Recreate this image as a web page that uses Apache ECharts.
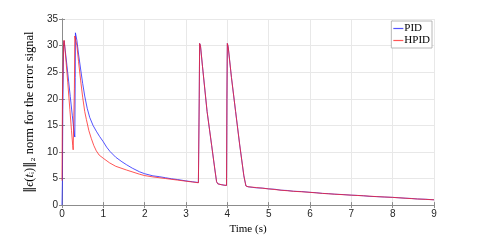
<!DOCTYPE html>
<html>
<head>
<meta charset="utf-8">
<script src="https://cdn.jsdelivr.net/npm/echarts@6/dist/echarts.min.js"></script>
<style>html,body{margin:0;padding:0;background:#fff;}#c{width:480px;height:240px;}</style>
</head>
<body>
<div id="c"></div>
<script>
var xTicks = [0, 1, 2, 3, 4, 5, 6, 7, 8, 9];
var yTicks = [0, 5, 10, 15, 20, 25, 30, 35];

var tPID = [0, 0.01, 0.02, 0.04, 0.05, 0.08, 0.12, 0.16, 0.2, 0.25, 0.3, 0.31, 0.32, 0.325, 0.36, 0.4, 0.45, 0.5, 0.55, 0.61, 0.67, 0.75, 0.83, 0.91, 1.0, 1.08, 1.16, 1.3, 1.45, 1.56, 1.7, 1.88, 2.0, 2.2, 2.35, 2.5, 2.65, 2.8, 3.0, 3.15, 3.3, 3.31, 3.32, 3.33, 3.35, 3.4, 3.51, 3.62, 3.7, 3.74, 3.77, 3.85, 3.92, 3.98, 3.99, 4.0, 4.02, 4.1, 4.2, 4.3, 4.4, 4.45, 4.5, 4.6, 4.7, 4.85, 5.0, 5.15, 5.3, 5.45, 5.6, 5.8, 6.0, 6.15, 6.3, 6.45, 6.6, 6.8, 7.0, 7.15, 7.3, 7.45, 7.6, 7.8, 8.0, 8.15, 8.3, 8.45, 8.6, 8.8, 9.0];
var yPID = [0, 4.6, 18, 30.3, 30.9, 29.0, 26.2, 23.3, 20.4, 16.8, 13.2, 12.8, 24, 32.4, 31.0, 28.4, 25.6, 22.9, 20.5, 18.2, 16.5, 15.0, 13.9, 12.9, 11.9, 10.9, 10.1, 9.0, 8.15, 7.6, 6.95, 6.25, 5.9, 5.5, 5.35, 5.15, 4.95, 4.8, 4.55, 4.4, 4.25, 4.2, 20, 30.4, 30.0, 26.0, 17.6, 11.25, 6.6, 4.4, 4.0, 3.85, 3.75, 3.7, 20, 30.4, 29.8, 24.0, 17.6, 11.3, 5.5, 3.6, 3.45, 3.35, 3.25, 3.2, 3.05, 2.98, 2.8, 2.75, 2.6, 2.55, 2.4, 2.33, 2.2, 2.15, 2.05, 1.98, 1.87, 1.82, 1.75, 1.64, 1.6, 1.52, 1.45, 1.38, 1.3, 1.25, 1.15, 1.1, 1.0];

var tHPID = [0, 0.01, 0.04, 0.05, 0.06, 0.1, 0.14, 0.19, 0.23, 0.26, 0.27, 0.28, 0.285, 0.3, 0.31, 0.36, 0.4, 0.45, 0.5, 0.55, 0.59, 0.65, 0.71, 0.77, 0.83, 0.9, 1.0, 1.15, 1.3, 1.56, 1.88, 2.0, 2.2, 2.5, 2.8, 3.0, 3.15, 3.3, 3.31, 3.32, 3.33, 3.35, 3.4, 3.51, 3.62, 3.7, 3.74, 3.77, 3.85, 3.92, 3.98, 3.99, 4.0, 4.02, 4.1, 4.2, 4.3, 4.4, 4.45, 4.5, 4.7, 5.0, 5.3, 5.6, 6.0, 6.3, 6.6, 7.0, 7.3, 7.6, 8.0, 8.3, 8.6, 9.0];
var yHPID = [4.6, 20, 30.6, 31.0, 30.5, 26.8, 23.0, 18.0, 14.0, 11.2, 10.4, 10.2, 10.4, 22, 31.8, 30.0, 27.0, 23.5, 20.3, 17.6, 16.1, 14.0, 12.5, 11.2, 10.2, 9.4, 8.8, 7.95, 7.3, 6.6, 5.8, 5.55, 5.3, 5.0, 4.7, 4.5, 4.35, 4.2, 4.2, 20, 30.4, 30.0, 26.0, 17.6, 11.25, 6.6, 4.4, 4.0, 3.85, 3.75, 3.7, 20, 30.4, 29.8, 24.0, 17.6, 11.3, 5.5, 3.6, 3.45, 3.3, 3.05, 2.8, 2.6, 2.4, 2.2, 2.05, 1.87, 1.75, 1.6, 1.45, 1.3, 1.15, 1.0];

function pairs(t, y) { return t.map(function (v, i) { return [v, y[i]]; }); }

var serif = '"Liberation Serif", "DejaVu Serif", serif';
var sans = '"Liberation Sans", Arial, sans-serif';

var chart = echarts.init(document.getElementById('c'), null, { renderer: 'canvas' });
var axisCol = '#8c8c8c';
var gridCol = '#e8e8e8';
chart.setOption({
  animation: false,
  backgroundColor: '#fff',
  grid: { left: 62, right: 46, top: 19, bottom: 28, show: false },
  legend: {
    orient: 'vertical', right: 48, top: 21,
    icon: 'rect', itemWidth: 10, itemHeight: 1.2, itemGap: 1,
    padding: [2, 2, 2, 2],
    borderColor: '#a6a6a6', borderWidth: 0.8, backgroundColor: '#fff',
    textStyle: { fontFamily: serif, fontSize: 11, color: '#000', padding: [0, 0, 0, -4] },
    data: ['PID', 'HPID']
  },
  xAxis: [{
    type: 'value', min: 0, max: 9, interval: 1,
    name: 'Time (s)', nameLocation: 'middle', nameGap: 16,
    nameTextStyle: { fontFamily: serif, fontSize: 11, color: '#000' },
    axisLine: { show: true, lineStyle: { color: axisCol, width: 1 } },
    axisTick: { show: true, inside: true, length: 3, lineStyle: { color: axisCol } },
    axisLabel: { fontFamily: sans, fontSize: 10, color: '#262626', margin: 4,
      formatter: function (v) { return xTicks.indexOf(v) >= 0 ? String(v) : ''; } },
    splitLine: { show: true, lineStyle: { color: gridCol, width: 1 } }
  }, {
    type: 'value', min: 0, max: 9, interval: 1, position: 'top',
    axisLine: { show: true, lineStyle: { color: axisCol, width: 1 } },
    axisTick: { show: true, inside: true, length: 3, lineStyle: { color: axisCol } },
    axisLabel: { show: false }, splitLine: { show: false }
  }],
  yAxis: [{
    type: 'value', min: 0, max: 35, interval: 5,
    name: '{d|‖}{i|ϵ}({i|t}ᵢ){d|‖}₂ norm for the error signal', nameLocation: 'middle', nameGap: 19,
    nameTextStyle: { fontFamily: serif, fontSize: 12.5, color: '#000',
      rich: {
        d: { fontFamily: '"DejaVu Serif", serif', fontSize: 12, color: '#000' },
        i: { fontFamily: serif, fontStyle: 'italic', fontSize: 12.5, color: '#000' }
      } },
    axisLine: { show: true, lineStyle: { color: axisCol, width: 1 } },
    axisTick: { show: true, inside: true, length: 3, lineStyle: { color: axisCol } },
    axisLabel: { fontFamily: sans, fontSize: 10, color: '#262626', margin: 4,
      formatter: function (v) { return yTicks.indexOf(v) >= 0 ? String(v) : ''; } },
    splitLine: { show: true, lineStyle: { color: gridCol, width: 1 } }
  }, {
    type: 'value', min: 0, max: 35, interval: 5, position: 'right',
    axisLine: { show: true, lineStyle: { color: axisCol, width: 1 } },
    axisTick: { show: true, inside: true, length: 3, lineStyle: { color: axisCol } },
    axisLabel: { show: false }, splitLine: { show: false }
  }],
  series: [{
    name: 'PID', type: 'line', data: pairs(tPID, yPID),
    showSymbol: false, symbol: 'none',
    lineStyle: { color: 'rgba(40,40,255,0.8)', width: 1 },
    itemStyle: { color: 'rgba(40,40,255,0.8)' }
  }, {
    name: 'HPID', type: 'line', data: pairs(tHPID, yHPID),
    showSymbol: false, symbol: 'none',
    lineStyle: { color: 'rgba(255,30,30,0.75)', width: 1 },
    itemStyle: { color: 'rgba(255,30,30,0.75)' }
  }]
});
</script>
</body>
</html>
